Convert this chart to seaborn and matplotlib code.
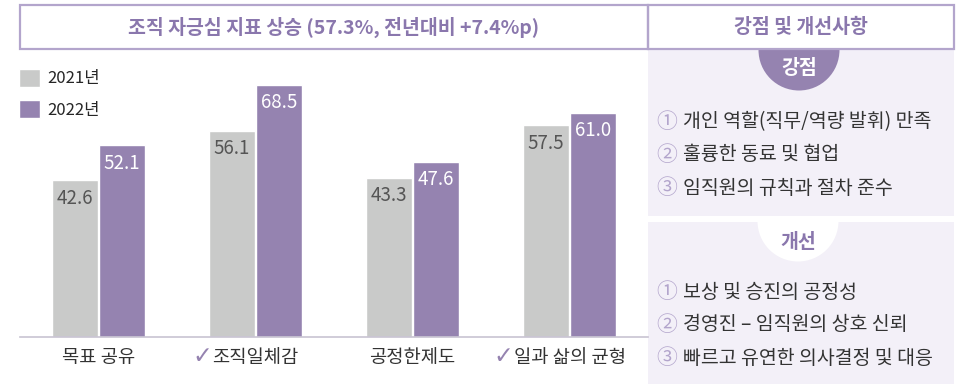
import matplotlib
matplotlib.use("Agg")
import matplotlib.pyplot as plt
from matplotlib.patches import Rectangle, Circle
import seaborn as sns
import pandas as pd

# ---- data ----
categories = ["목표 공유", "조직일체감", "공정한제도", "일과 삶의 균형"]
checked = [False, True, False, True]
years = ["2021년", "2022년"]
values_2021 = [42.6, 56.1, 43.3, 57.5]
values_2022 = [52.1, 68.5, 47.6, 61.0]

title_left = "조직 자긍심 지표 상승 (57.3%, 전년대비 +7.4%p)"
title_right = "강점 및 개선사항"
strength_title = "강점"
strength_items = ["개인 역할(직무/역량 발휘) 만족", "훌륭한 동료 및 협업", "임직원의 규칙과 절차 준수"]
improve_title = "개선"
improve_items = ["보상 및 승진의 공정성", "경영진 – 임직원의 상호 신뢰", "빠르고 유연한 의사결정 및 대응"]
circled = ["①", "②", "③"]

# ---- styling ----
sns.set_theme(style="white")
FONTS = ["Noto Sans CJK KR", "DejaVu Sans"]
plt.rcParams["font.family"] = FONTS

GRAY = "#c9cac9"
PURPLE = "#9583b0"
BORDER = "#b3a5cc"
PANEL = "#f3f0f8"
TITLE_C = "#8a77ad"
TEXT_C = "#333333"

W, H = 970, 384
fig = plt.figure(figsize=(W / 100, H / 100), dpi=100)

# overlay in pixel coordinates for the frames and side panel
ov = fig.add_axes([0, 0, 1, 1])
ov.set_xlim(0, W)
ov.set_ylim(H, 0)
ov.axis("off")

# header boxes
ov.add_patch(Rectangle((20, 5), 628, 44, fill=False, ec=BORDER, lw=1.6, zorder=3))
ov.add_patch(Rectangle((648, 5), 306, 44, fill=False, ec=BORDER, lw=1.6, zorder=3))
ov.text(334, 27, title_left, ha="center", va="center", color=TITLE_C,
        fontsize=14, fontweight="bold")
ov.text(801, 27, title_right, ha="center", va="center", color=TITLE_C,
        fontsize=14, fontweight="bold")


def item_list(y0, items):
    for i, item in enumerate(items):
        y = y0 + i * 33
        ov.text(656, y, circled[i], ha="left", va="center", color=BORDER,
                fontsize=15, zorder=2)
        ov.text(683, y, item, ha="left", va="center", color=TEXT_C,
                fontsize=14, zorder=2)


# strength panel with a half-disc badge hanging from the header
p1 = Rectangle((648, 50), 306, 166, fc=PANEL, ec="none", zorder=0)
ov.add_patch(p1)
c1 = Circle((799, 50), 40.5, fc=PURPLE, ec="none", zorder=1)
ov.add_patch(c1)
c1.set_clip_path(p1)
ov.text(799, 68, strength_title, ha="center", va="center", color="white",
        fontsize=14, fontweight="bold", zorder=2)
item_list(122, strength_items)

# improvement panel with a white half-disc badge
p2 = Rectangle((648, 222), 306, 162, fc=PANEL, ec="none", zorder=0)
ov.add_patch(p2)
c2 = Circle((798, 221), 40.5, fc="white", ec="none", zorder=1)
ov.add_patch(c2)
c2.set_clip_path(p2)
ov.text(798, 242, improve_title, ha="center", va="center", color=TITLE_C,
        fontsize=14, fontweight="bold", zorder=2)
item_list(292, improve_items)

# ---- bar chart ----
df = pd.DataFrame({
    "category": categories * 2,
    "year": [years[0]] * len(categories) + [years[1]] * len(categories),
    "value": values_2021 + values_2022,
})

ax = fig.add_axes([20 / W, (H - 337) / H, 628 / W, 276 / H])
ax.patch.set_alpha(0)
sns.barplot(data=df, x="category", y="value", hue="year", order=categories,
            hue_order=years, palette=[GRAY, PURPLE], width=0.605, gap=0.03,
            saturation=1, ax=ax, legend=True, errorbar=None)
ax.set_xlim(-0.5, 3.5)
ax.set_ylim(0, 75)
ax.set_xlabel("")
ax.set_ylabel("")
ax.set_yticks([])
for s in ["top", "right", "left"]:
    ax.spines[s].set_visible(False)
ax.spines["bottom"].set_color("#c8c3d2")
ax.spines["bottom"].set_linewidth(1.2)
ax.tick_params(axis="x", length=0, pad=7, labelsize=13.5, labelcolor=TEXT_C)

# value labels inside the top of each bar
label_colors = ["#555555", "white"]
for cont, col in zip(ax.containers, label_colors):
    for bar in cont:
        h = bar.get_height()
        ax.annotate(f"{h:.1f}", (bar.get_x() + bar.get_width() / 2, h),
                    xytext=(0, -18), textcoords="offset pixels",
                    ha="center", va="center", color=col, fontsize=13.5,
                    fontweight="medium")

# legend
handles, labels = ax.get_legend_handles_labels()
ax.legend(handles, labels, loc="upper left", bbox_to_anchor=(12 / W, 1 - 62 / H),
          bbox_transform=fig.transFigure, frameon=False, fontsize=12,
          handlelength=1.3, handleheight=1.3, handletextpad=0.4,
          labelspacing=0.75, borderaxespad=0)

# check marks before highlighted categories
fig.canvas.draw()
renderer = fig.canvas.get_renderer()
for lbl, chk in zip(ax.get_xticklabels(), checked):
    if chk:
        bb = lbl.get_window_extent(renderer)
        x0 = bb.x0
        yc = (bb.y0 + bb.y1) / 2 + 1
        fig.text(x0 / W, yc / H, "✓", ha="right", va="center", color=PURPLE,
                 fontsize=17, fontweight="bold", family=["DejaVu Sans"])

fig.savefig("out.png", dpi=100)
